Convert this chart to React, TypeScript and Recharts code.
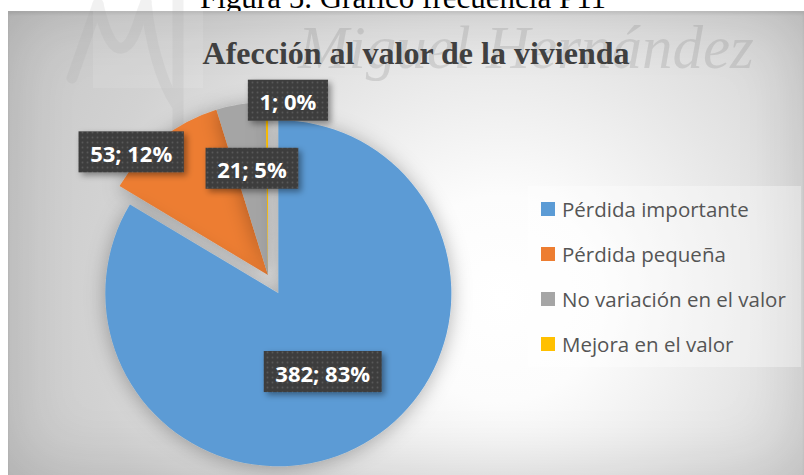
import React from 'react';
import { PieChart, Pie, Cell, Legend } from 'recharts';

// Afección al valor de la vivienda (P11)
const categories = [
  'Pérdida importante',
  'Pérdida pequeña',
  'No variación en el valor',
  'Mejora en el valor',
];
const counts = [382, 53, 21, 1];
const percentLabels = [83, 12, 5, 0];

const COLORS = ['#5B9BD5', '#ED7D31', '#A5A5A5', '#FFC000'];

const W = 804;
const H = 475;
const CX = 268;
const CY = 275;
const R = 173;
const EXPLODE = 21; // only the first slice is pulled out
const RAD = Math.PI / 180;

const chartData = categories.map((name, i) => ({
  name,
  value: counts[i],
  pct: percentLabels[i],
}));

const total = counts.reduce((a, b) => a + b, 0);
const firstMid = 90 - (counts[0] / total) * 180;
const explodedCx = CX + EXPLODE * Math.cos(firstMid * RAD);
const explodedCy = CY - EXPLODE * Math.sin(firstMid * RAD);

// label box placement, Excel "best fit" style: radius fraction + turn (deg)
const LABEL_PLACE = [
  { r: 0.52, turn: 0 },
  { r: 1.064, turn: 9.8 },
  { r: 0.624, turn: -0.5 },
  { r: 1.017, turn: -6.9 },
];

const charW = (c: string) => {
  if (c >= '0' && c <= '9') return 0.572;
  if (c === ';') return 0.29;
  if (c === ' ') return 0.26;
  if (c === '%') return 0.86;
  return 0.55;
};

const makeLabel = (indices: number[]) => (props: any) => {
  const { cx, cy, midAngle, index, outerRadius } = props;
  if (!indices.includes(index)) return null;
  const d = chartData[index];
  const place = LABEL_PLACE[index];
  const a = (midAngle + place.turn) * RAD;
  const x = cx + outerRadius * place.r * Math.cos(a);
  const y = cy - outerRadius * place.r * Math.sin(a);
  const text = `${d.value}; ${d.pct}%`;
  const fs = 22;
  const w = text.split('').reduce((s, c) => s + charW(c), 0) * fs + 24;
  const h = 41;
  return (
    <g key={`lbl-${index}`}>
      <rect
        x={x - w / 2}
        y={y - h / 2}
        width={w}
        height={h}
        fill="url(#lblDots)"
        filter="url(#lblShadow)"
      />
      <text
        x={x}
        y={y + 1}
        textAnchor="middle"
        dominantBaseline="central"
        fill="#ffffff"
        fontFamily="'Open Sans', sans-serif"
        fontWeight="bold"
        fontSize={fs}
      >
        {text}
      </text>
    </g>
  );
};

const LegendBox = () => (
  <div
    style={{
      width: 273,
      height: 181,
      background: 'rgba(255,255,255,0.35)',
      boxSizing: 'border-box',
      paddingLeft: 13,
      fontFamily: "'Open Sans', sans-serif",
      fontSize: 20.5,
      color: '#555555',
    }}
  >
    {categories.map((c, i) => (
      <div key={c} style={{ height: 45, display: 'flex', alignItems: 'center', whiteSpace: 'nowrap' }}>
        <span style={{ width: 14, height: 14, background: COLORS[i], marginRight: 7, flex: 'none' }} />
        <span>{c}</span>
      </div>
    ))}
  </div>
);

export default function App() {
  return (
    <div
      style={{
        position: 'fixed',
        left: 0,
        top: 0,
        width: W,
        height: H,
        overflow: 'hidden',
        background: '#ffffff',
      }}
    >
      {/* figure caption, mostly cut off at the top */}
      <svg width={W} height={H} style={{ position: 'absolute', left: 0, top: 0 }}>
        <text
          x={200}
          y={8}
          fontFamily="'Liberation Serif', 'Times New Roman', serif"
          fontSize={31}
          fill="#000"
        >
          Figura 5. Gráfico frecuencia P11
        </text>
      </svg>

      {/* chart area */}
      <div
        style={{
          position: 'absolute',
          left: 8,
          top: 11,
          width: 796,
          height: 464,
          background:
            'radial-gradient(circle at 62% 62%, #ffffff 0%, #fcfcfc 18%, #e6e6e6 45%, #d2d2d2 72%, #c6c6c6 100%)',
          boxShadow: 'inset 0 0 70px rgba(0,0,0,0.14), inset 0 3px 3px rgba(0,0,0,0.08)',
        }}
      />

      {/* watermark (logo strokes + name) */}
      <svg width={W} height={H} style={{ position: 'absolute', left: 0, top: 0 }}>
        <rect x={93} y={0} width={110} height={88} fill="#ffffff" opacity={0.1} />
        <g fill="none" stroke="#9a9a9a" strokeWidth={11} strokeLinecap="round" opacity={0.13}>
          <path d="M72 78 L98 4" />
          <path d="M98 4 C104 30 112 50 122 48 C134 46 138 20 146 2" />
          <path d="M146 2 C150 40 160 80 176 104" />
          <path d="M178 0 L178 160" />
        </g>
        <text
          x={298}
          y={68}
          fontFamily="'Liberation Serif', 'Times New Roman', serif"
          fontStyle="italic"
          fontSize={61}
          fill="#8a8a8a"
          opacity={0.25}
        >
          Miguel Hernández
        </text>
      </svg>

      <div style={{ position: 'absolute', left: 0, top: 0 }}>
        <PieChart width={W} height={H} margin={{ top: 0, right: 0, bottom: 0, left: 0 }}>
          <defs>
            <pattern id="lblDots" width="5" height="5" patternUnits="userSpaceOnUse">
              <rect width="5" height="5" fill="#3d3d3d" />
              <circle cx="2.5" cy="2.5" r="0.9" fill="#585858" />
            </pattern>
            <filter id="lblShadow" x="-20%" y="-30%" width="150%" height="170%">
              <feDropShadow dx="3" dy="3" stdDeviation="3" floodColor="#000" floodOpacity="0.4" />
            </filter>
            <filter id="pieShadow" filterUnits="userSpaceOnUse" x="0" y="0" width={W} height={H}>
              <feDropShadow dx="0" dy="2" stdDeviation="10" floodColor="#000" floodOpacity="0.3" />
            </filter>
          </defs>

          <text
            x={416}
            y={64}
            textAnchor="middle"
            fontFamily="'Liberation Serif', 'Times New Roman', serif"
            fontWeight="bold"
            fontSize={32}
            fill="#404040"
          >
            Afección al valor de la vivienda
          </text>

          <Pie
            data={chartData}
            dataKey="value"
            nameKey="name"
            cx={CX}
            cy={CY}
            outerRadius={R}
            startAngle={90}
            endAngle={-270}
            stroke="none"
            legendType="none"
            labelLine={false}
            label={makeLabel([1, 2, 3])}
            isAnimationActive={false}
          >
            {chartData.map((d, i) => (
              <Cell
                key={d.name}
                fill={i === 0 ? 'none' : COLORS[i]}
                filter={i === 0 ? undefined : 'url(#pieShadow)'}
              />
            ))}
          </Pie>

          <Pie
            data={chartData}
            dataKey="value"
            nameKey="name"
            cx={explodedCx}
            cy={explodedCy}
            outerRadius={R}
            startAngle={90}
            endAngle={-270}
            stroke="none"
            legendType="none"
            labelLine={false}
            label={makeLabel([0])}
            isAnimationActive={false}
          >
            {chartData.map((d, i) => (
              <Cell
                key={d.name}
                fill={i === 0 ? COLORS[0] : 'none'}
                filter={i === 0 ? 'url(#pieShadow)' : undefined}
              />
            ))}
          </Pie>

          <Legend
            layout="vertical"
            align="right"
            verticalAlign="middle"
            content={() => <LegendBox />}
            wrapperStyle={{ left: 528, top: 186, right: 'auto', bottom: 'auto', width: 273 }}
          />
        </PieChart>
      </div>
    </div>
  );
}
